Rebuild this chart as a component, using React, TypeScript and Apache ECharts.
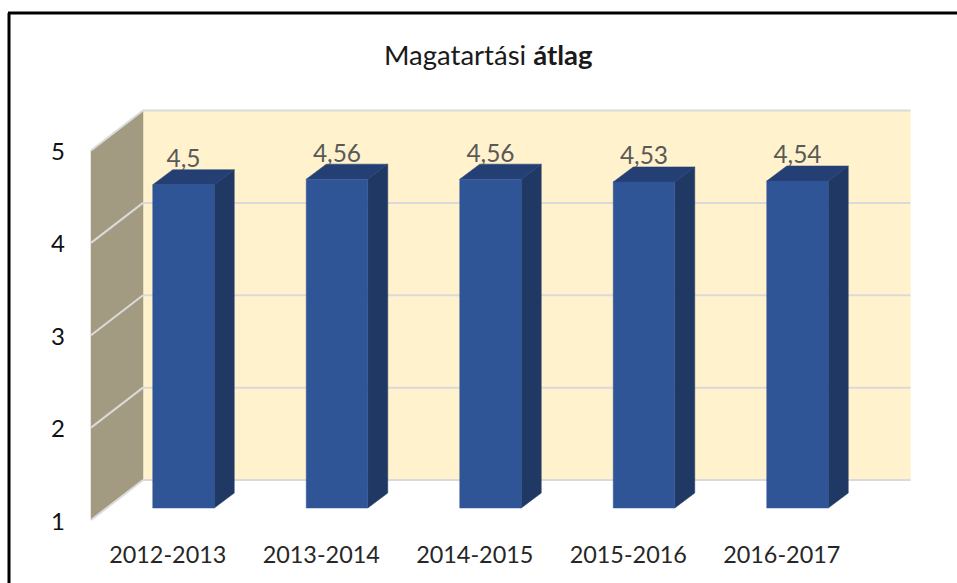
import React, { useEffect, useRef } from "react";
import * as echarts from "echarts";

const categories = ["2012-2013", "2013-2014", "2014-2015", "2015-2016", "2016-2017"];
const averages = [4.5, 4.56, 4.56, 4.53, 4.54];
const axisTicks = [1, 2, 3, 4, 5];

const FONT = "Lato";
const WALL_DX = 52;
const WALL_DY = -40;
const BAR_DX = 20;
const BAR_DY = -15;
const BAR_SHIFT_X = 15.75;
const BAR_SHIFT_Y = -12;
const BAR_WIDTH = 61.5;

const poly = (points: number[][], fill: string) => ({
  type: "polygon",
  shape: { points },
  style: { fill, stroke: fill, lineWidth: 0.5 },
});

export default function App() {
  const ref = useRef<HTMLDivElement>(null);
  useEffect(() => {
    const chart = echarts.init(ref.current!, null, { renderer: "svg" });
    chart.setOption({
      animation: false,
      backgroundColor: "#ffffff",
      title: {
        text: "{a|Magatartási }{b|átlag}",
        left: 379,
        top: 35,
        textStyle: {
          rich: {
            a: { fontFamily: FONT, fontSize: 27.5, color: "#1a1a1a", fontWeight: "normal" },
            b: { fontFamily: FONT, fontSize: 27.5, color: "#1a1a1a", fontWeight: "bold" },
          },
        },
      },
      grid: { left: 91, right: 98.5, top: 150.5, bottom: 63, containLabel: false },
      xAxis: {
        type: "category",
        data: categories,
        axisLine: { show: false },
        axisTick: { show: false },
        splitLine: { show: false },
        axisLabel: { color: "#262626", fontFamily: FONT, fontSize: 23.4, margin: 22, interval: 0 },
      },
      yAxis: {
        type: "value",
        min: 1,
        max: 5,
        interval: 1,
        axisLine: { show: false },
        axisTick: { show: false },
        splitLine: { show: false },
        axisLabel: { color: "#111111", fontFamily: FONT, fontSize: 24, margin: 26 },
      },
      graphic: [
        { type: "line", shape: { x1: 9, y1: 13, x2: 9, y2: 583 }, style: { stroke: "#000", lineWidth: 3 } },
        { type: "line", shape: { x1: 8, y1: 13, x2: 957, y2: 13 }, style: { stroke: "#000", lineWidth: 3 } },
      ],
      series: [
        {
          type: "custom",
          z: 1,
          silent: true,
          data: [[0, 1]],
          encode: { x: 0, y: 1 },
          renderItem: (params: any, api: any) => {
            const g = params.coordSys;
            const x0 = g.x, x1 = g.x + g.width, yT = g.y, yB = g.y + g.height;
            return {
              type: "group",
              children: [
                poly(
                  [
                    [x0 + WALL_DX, yT + WALL_DY],
                    [x1 + WALL_DX, yT + WALL_DY],
                    [x1 + WALL_DX, yB + WALL_DY],
                    [x0 + WALL_DX, yB + WALL_DY],
                  ],
                  "#FFF2CC"
                ),
                poly(
                  [
                    [x0, yT],
                    [x0 + WALL_DX, yT + WALL_DY],
                    [x0 + WALL_DX, yB + WALL_DY],
                    [x0, yB],
                  ],
                  "#A39B81"
                ),
              ],
            };
          },
        },
        {
          type: "custom",
          z: 2,
          silent: true,
          data: axisTicks.map((t) => [0, t]),
          encode: { x: 0, y: 1 },
          renderItem: (params: any, api: any) => {
            const g = params.coordSys;
            const y = api.coord([0, api.value(1)])[1];
            const style = { stroke: "#DADADA", lineWidth: 2, fill: null };
            return {
              type: "group",
              children: [
                {
                  type: "line",
                  shape: { x1: g.x, y1: y, x2: g.x + WALL_DX, y2: y + WALL_DY },
                  style,
                },
                {
                  type: "line",
                  shape: {
                    x1: g.x + WALL_DX,
                    y1: y + WALL_DY,
                    x2: g.x + g.width + WALL_DX,
                    y2: y + WALL_DY,
                  },
                  style,
                },
              ],
            };
          },
        },
        {
          type: "custom",
          z: 3,
          silent: true,
          data: averages.map((v, i) => [i, v]),
          encode: { x: 0, y: 1 },
          renderItem: (_params: any, api: any) => {
            const value = api.value(1);
            const [cx, yTop] = api.coord([api.value(0), value]);
            const yBase = api.coord([api.value(0), 1])[1];
            const l = cx + BAR_SHIFT_X - BAR_WIDTH / 2;
            const r = l + BAR_WIDTH;
            const t = yTop + BAR_SHIFT_Y;
            const b = yBase + BAR_SHIFT_Y;
            return {
              type: "group",
              children: [
                poly(
                  [
                    [r, t],
                    [r + BAR_DX, t + BAR_DY],
                    [r + BAR_DX, b + BAR_DY],
                    [r, b],
                  ],
                  "#203864"
                ),
                poly(
                  [
                    [l, t],
                    [l + BAR_DX, t + BAR_DY],
                    [r + BAR_DX, t + BAR_DY],
                    [r, t],
                  ],
                  "#233F73"
                ),
                poly(
                  [
                    [l, t],
                    [r, t],
                    [r, b],
                    [l, b],
                  ],
                  "#2F5597"
                ),
                {
                  type: "text",
                  style: {
                    x: cx + BAR_SHIFT_X,
                    y: t + BAR_DY - 12,
                    text: String(value).replace(".", ","),
                    fill: "#595959",
                    fontFamily: FONT,
                    fontSize: 24.5,
                    align: "center",
                    verticalAlign: "middle",
                  },
                },
              ],
            };
          },
        },
      ],
    });
    return () => chart.dispose();
  }, []);
  return (
    <div
      ref={ref}
      style={{ position: "fixed", left: 0, top: 0, width: 957, height: 583 }}
    />
  );
}
